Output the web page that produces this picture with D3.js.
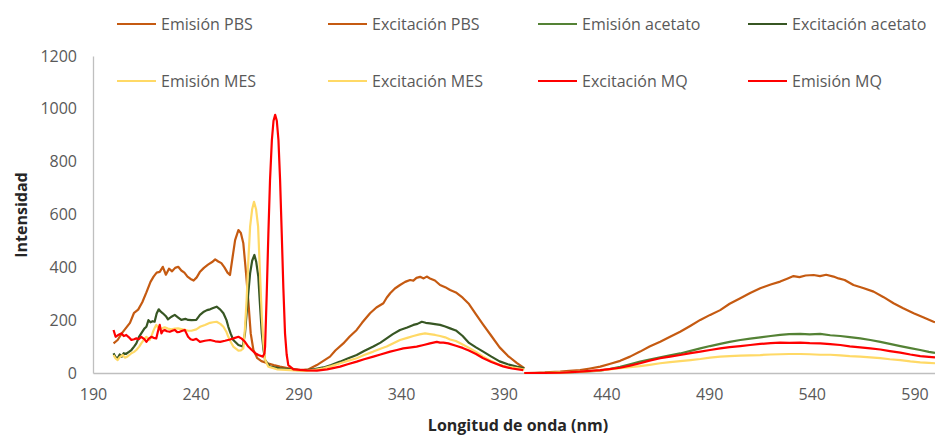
<!DOCTYPE html>
<html>
<head>
<meta charset="utf-8">
<script src="https://cdn.jsdelivr.net/npm/d3@7"></script>
<style>
  body { margin: 0; background: #fff; }
  text { font-family: "Open Sans", Lato, sans-serif; }
</style>
</head>
<body>
<div id="chart"></div>
<script>
// wavelength (nm), intensity pairs
var excitacionPBS = [[200,112],[202,125],[204,150],[206,170],[208,190],[210,228],[212,240],[214,268],[216,305],[218,345],[219.5,365],[221,380],[222.5,383],[224,402],[225.5,372],[227,395],[228.5,385],[230,398],[231.5,402],[233,388],[234.5,380],[236,365],[237.5,356],[239,350],[240.5,362],[242,382],[244,398],[246,410],[248,420],[249.5,430],[251,422],[252.5,416],[254,400],[255.5,380],[256.7,371],[258,440],[259.2,503],[260.8,541],[262,530],[263.2,491],[264.5,380],[265.6,276],[266.8,150],[268.1,87],[270,56],[272,45],[275,37],[278,30],[281,24],[284,20],[287,16],[291,11],[295,14],[299,30],[302,45],[305.4,62],[308,85],[311.9,112],[315,138],[318.4,163],[321,190],[324.9,226],[328,248],[331.4,264],[333,285],[334.7,302],[337,320],[339.5,333],[342,345],[344.4,352],[346,350],[347.5,360],[349.3,364],[351,358],[352.5,365],[354.1,358],[356.5,350],[359,333],[361.5,325],[363.9,314],[366.7,305],[370,285],[373.1,261],[376.5,222],[379.8,185],[384,140],[388,97],[392,65],[396.3,38],[400,18]];

var excitacionAcetato = [[200,75],[201,60],[202,56],[203,70],[204,62],[205,75],[206,72],[207.5,80],[208.7,87],[210,100],[211.1,112],[212.5,138],[213.5,150],[215,168],[216,175],[217,200],[218,192],[219,196],[220,194],[221,225],[222,241],[223,232],[224,226],[225.5,215],[226.5,203],[228,212],[229.8,220],[231.5,210],[233,201],[235,205],[236.3,201],[238,200],[240.3,201],[242.1,220],[244,232],[245.5,238],[247,241],[248.5,246],[250.2,251],[252,240],[253.5,226],[255,200],[255.9,175],[257,150],[258.3,125],[260.8,106],[262.9,100],[264,150],[264.8,226],[265.6,300],[266.5,377],[267.5,425],[268.6,447],[269.5,420],[270.5,365],[271.3,260],[272.2,150],[273,90],[273.8,49],[276.2,24],[281.1,18],[286,14],[290,11],[294.1,11],[298,15],[302.2,21],[306,30],[310.3,43],[314,55],[318.4,68],[322,83],[326.5,100],[330,115],[333,131],[336,147],[339.5,163],[343,172],[346,182],[348,186],[350.1,194],[352,190],[354.1,188],[356.5,185],[359,182],[361.5,176],[363.9,169],[366.7,161],[370,140],[373.1,114],[376.5,97],[379.8,82],[384,62],[388,44],[392,33],[396.3,24],[400,18]];

var excitacionMES = [[200,68],[201,55],[202,49],[203,60],[204.6,68],[205.5,58],[206.7,62],[208,70],[208.7,75],[210,80],[211.1,87],[212.5,100],[213.5,112],[215,128],[216,137],[217,128],[217.6,125],[218.5,140],[219.2,156],[220,170],[220.8,182],[221.7,172],[222.5,165],[224,170],[224.9,173],[226.5,168],[228.1,165],[230,168],[231.4,169],[233,166],[234.7,163],[236.3,160],[237.9,160],[240.3,165],[242.1,175],[244.5,182],[247,190],[248.5,192],[250.2,194],[252,186],[253.5,175],[255,155],[255.9,137],[257,118],[258.3,100],[260.8,85],[262,86],[263.2,93],[264,170],[264.8,276],[265.6,420],[266.5,554],[267.5,620],[268.4,648],[269.4,620],[270.4,554],[271.3,380],[272.2,213],[273,110],[273.8,49],[275.4,24],[279.5,14],[286,11],[290,9],[294,8],[298,12],[302.2,18],[306,26],[310.3,37],[314,46],[318.4,56],[322,68],[326.5,81],[330,92],[333,100],[336,112],[339.5,125],[343,133],[346,140],[349,146],[351.7,150],[354,147],[356.6,144],[359,140],[361.5,135],[363.9,127],[366.7,121],[370,108],[373.1,95],[376.5,80],[379.8,63],[384,45],[388,30],[392,23],[396.3,19],[400,13]];

var excitacionMQ = [[200,163],[201,137],[202.5,145],[203.8,150],[205,140],[206.2,144],[207.5,135],[208.7,125],[210,128],[211.1,131],[212.3,128],[213.5,137],[215,128],[216,118],[217.2,130],[218.4,137],[219.5,133],[220.8,131],[221.7,160],[222.5,182],[223.3,150],[224.1,160],[224.9,163],[226,158],[227.4,156],[228.6,160],[229.8,163],[231,155],[232.2,156],[233.5,160],[234.7,163],[235.5,150],[236.3,137],[237.5,128],[238.7,125],[240.3,129],[242.1,118],[244.5,122],[247,125],[249.5,120],[251.9,118],[254.3,122],[256.7,127],[258.8,132],[260.8,137],[262.4,130],[264,118],[265.6,100],[267.3,87],[269,75],[270.5,68],[272.7,62],[273.5,75],[273.8,100],[274.6,300],[275.4,529],[276.2,730],[277.1,882],[277.9,955],[278.7,977],[279.5,955],[280.3,882],[281.1,730],[281.9,529],[282.7,320],[283.5,150],[284.3,70],[285.1,30],[287.6,14],[290.8,12],[294,10],[299,9],[304,14],[310.3,24],[314,33],[318.4,43],[322,52],[326.5,62],[330,70],[334.7,81],[338,87],[341.1,93],[344,96],[347.6,100],[351,106],[354.1,112],[357.4,118],[359,115],[360.6,115],[363,112],[366.7,103],[370,95],[373,85],[376.5,72],[379.8,57],[384,42],[389.7,25],[394,17],[399.5,11]];

var emisionPBS = [[400,0],[405,1],[410,2],[417.5,5],[422,8],[427.2,11],[432,17],[437,24],[441.5,34],[446.7,46],[451.5,62],[456.4,81],[461,100],[466.2,118],[471,137],[475.9,156],[481,179],[485.7,201],[490.5,220],[495.4,238],[500,262],[505.2,283],[510,303],[514.9,321],[520,335],[524.6,346],[528,357],[531.1,367],[534,363],[537,369],[540.9,371],[544,367],[547,372],[550.6,365],[553,358],[556,352],[560.3,333],[565,322],[570.1,308],[575,287],[579.8,264],[584.5,245],[589.6,226],[594.5,210],[599.3,194],[600,192]];

var emisionAcetato = [[400,0],[410,0],[417.5,1],[427,4],[437,9],[441.5,15],[446.7,23],[451.5,33],[456.4,43],[461,51],[466.2,59],[471,67],[475.9,74],[481,84],[485.7,93],[490.5,102],[495.4,110],[500,118],[505.2,125],[510,130],[514.9,135],[520,140],[524.6,144],[529,147],[534.4,148],[539,146],[544.1,148],[549,143],[553.9,140],[558.5,136],[563.6,131],[568.5,125],[573.4,118],[578,110],[583.1,102],[588,94],[592.8,87],[597,80],[600,76]];

var emisionMES = [[400,0],[410,0],[420,2],[430,6],[437,10],[441.5,14],[446.7,18],[451.5,22],[456.4,26],[461,31],[466.2,37],[471,41],[475.9,45],[481,49],[485.7,53],[490.5,58],[495.4,62],[500,64],[505.2,66],[510,67],[514.9,68],[520,70],[524.6,71],[529,72],[534.4,72],[539,71],[544.1,69],[549,69],[553.9,67],[558.5,64],[563.6,62],[568.5,59],[573.4,56],[578,52],[583.1,49],[588,44],[592.8,40],[597,38],[600,37]];

var emisionMQ = [[400,0],[410,0],[417.5,1],[427,5],[437,11],[441.5,15],[446.7,20],[451.5,28],[456.4,37],[461,47],[466.2,56],[471,62],[475.9,68],[481,75],[485.7,81],[490.5,87],[495.4,93],[500,98],[505.2,102],[510,106],[514.9,110],[520,113],[524.6,115],[529,114],[534.4,115],[539,113],[544.1,112],[549,109],[553.9,106],[558.5,101],[563.6,97],[568.5,93],[573.4,89],[578,83],[583.1,77],[588,70],[592.8,64],[597,61],[600,59]];

var xTicks = [190, 240, 290, 340, 390, 440, 490, 540, 590];
var yTicks = [0, 200, 400, 600, 800, 1000, 1200];

// series in legend order (row by row)
var seriesNames = ["Emisión PBS", "Excitación PBS", "Emisión acetato", "Excitación acetato",
  "Emisión MES", "Excitación MES", "Excitación MQ", "Emisión MQ"];
var seriesData = [emisionPBS, excitacionPBS, emisionAcetato, excitacionAcetato,
  emisionMES, excitacionMES, excitacionMQ, emisionMQ];
var seriesColors = ["#C55A11", "#C55A11", "#548235", "#375623",
  "#FFD966", "#FFD966", "#FF0000", "#FF0000"];

var svgWidth = 935;
var svgHeight = 436;

var svg = d3.select("#chart")
  .append("svg")
  .attr("width", svgWidth)
  .attr("height", svgHeight);

var xScale = d3.scaleLinear()
  .domain([190, 600])
  .range([93, 935]);

var yScale = d3.scaleLinear()
  .domain([0, 1200])
  .range([373, 56]);

// axes
var xAxis = svg.append("g")
  .attr("transform", "translate(0, 373)")
  .call(d3.axisBottom(xScale).tickValues(xTicks).tickSize(0).tickPadding(16));

var yAxis = svg.append("g")
  .attr("transform", "translate(93, 0)")
  .call(d3.axisLeft(yScale).tickValues(yTicks).tickFormat(d3.format("d")).tickSize(0).tickPadding(16));

svg.selectAll(".domain")
  .attr("stroke", "#bfbfbf")
  .attr("stroke-width", 1.3);

svg.selectAll(".tick text")
  .attr("fill", "#595959")
  .style("font-family", "'Open Sans', sans-serif")
  .style("font-size", "16px");

// axis titles
svg.append("text")
  .attr("x", 518)
  .attr("y", 431)
  .attr("text-anchor", "middle")
  .attr("fill", "#262626")
  .style("font-size", "16px")
  .style("font-weight", "bold")
  .text("Longitud de onda (nm)");

svg.append("text")
  .attr("transform", "translate(27, 215) rotate(-90)")
  .attr("text-anchor", "middle")
  .attr("fill", "#262626")
  .style("font-size", "16px")
  .style("font-weight", "bold")
  .text("Intensidad");

// lines
var line = d3.line()
  .x(d => xScale(d[0]))
  .y(d => yScale(d[1]));

svg.append("g")
  .selectAll("path")
  .data(seriesData)
  .enter()
  .append("path")
  .attr("d", d => line(d))
  .attr("fill", "none")
  .attr("stroke", (d, i) => seriesColors[i])
  .attr("stroke-width", 2.2)
  .attr("stroke-linejoin", "round");

// legend, 4 columns x 2 rows
var legendX = [117, 328, 538, 748];
var legendY = [24, 81];

var legend = svg.append("g")
  .selectAll("g")
  .data(seriesNames)
  .enter()
  .append("g")
  .attr("transform", (d, i) => `translate(${legendX[i % 4]}, ${legendY[Math.floor(i / 4)]})`);

legend.append("line")
  .attr("x1", 0)
  .attr("x2", 39)
  .attr("y1", 0)
  .attr("y2", 0)
  .attr("stroke", (d, i) => seriesColors[i])
  .attr("stroke-width", 2.2);

legend.append("text")
  .attr("x", 44)
  .attr("y", 0)
  .attr("dy", "0.35em")
  .attr("fill", "#595959")
  .style("font-size", "16px")
  .text(d => d);
</script>
</body>
</html>
